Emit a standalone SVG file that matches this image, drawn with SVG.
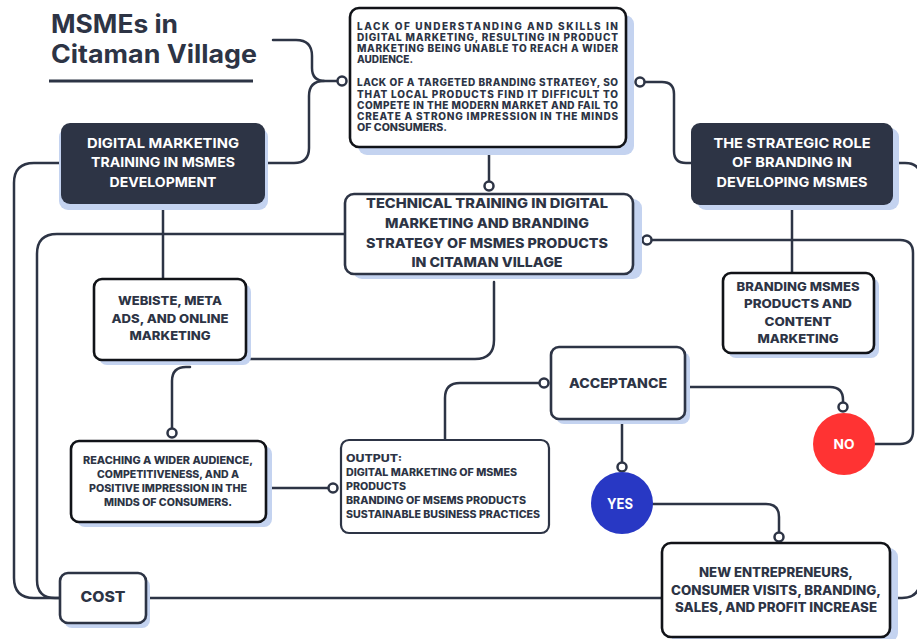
<svg xmlns="http://www.w3.org/2000/svg" width="917" height="639" viewBox="0 0 917 639">
<defs>
<style>
text{font-family:Inter,"Open Sans","Liberation Sans",sans-serif;font-weight:800;fill:#2d3445}
.t{font-size:25px;font-weight:700}
.w{fill:#ffffff;font-size:13.5px;text-anchor:middle;font-weight:700}
.c14{font-size:13.5px;text-anchor:middle}
.c13{font-size:12.5px;text-anchor:middle}
.c12{font-size:12px;text-anchor:middle}
.c11{font-size:10.5px;text-anchor:middle}
.l10{font-size:10px}
.j{font-size:10px;font-weight:800}
.ln{fill:none;stroke:#2d3445;stroke-width:2.5;stroke-linecap:round;stroke-linejoin:round}
.dot{fill:#ffffff;stroke:#2d3445;stroke-width:2.5}
.sh{fill:#c4d3f0}
.box{fill:#ffffff;stroke:#111318;stroke-width:2.6}
.dark{fill:#2d3445}
</style>
</defs>
<rect width="917" height="639" fill="#ffffff"/>

<g id="title">
<text class="t" x="51" y="33" textLength="127" lengthAdjust="spacingAndGlyphs">MSMEs in</text>
<text class="t" x="51" y="63" textLength="206" lengthAdjust="spacingAndGlyphs">Citaman Village</text>
<line x1="49" y1="81" x2="253" y2="81" stroke="#2d3445" stroke-width="3"/>
</g>

<g id="connectors">
<path class="ln" d="M273 40 H296 Q312 40 312 56 V68 Q312 81 325 81 H338"/>
<path class="ln" d="M265 163 H294 Q309 163 309 148 V96 Q309 81 324 81"/>
<path class="ln" d="M644 82 H662 Q674 82 674 94 V151 Q674 163 686 163 H691"/>
<path class="ln" d="M893 163 H905 Q921 163 921 179 V300"/>
<path class="ln" d="M489 147 V182"/>
<path class="ln" d="M163 204 V279"/>
<path class="ln" d="M792 205 V273"/>
<path class="ln" d="M651 240 H900 Q913 240 913 253 V431 Q913 444 900 444 H873"/>
<path class="ln" d="M345 234 H57 Q37 234 37 254 V580 Q37 598 55 598 H60"/>
<path class="ln" d="M61 163 H34 Q14 163 14 183 V578 Q14 598 34 598 H60"/>
<path class="ln" d="M494 282 V340 Q494 359 475 359 H246"/>
<path class="ln" d="M190 367 H186 Q172 367 172 381 V429"/>
<path class="ln" d="M266 488 H329"/>
<path class="ln" d="M445 440 V398 Q445 383 460 383 H540"/>
<path class="ln" d="M685 387 H830 Q843 387 843 400 V403"/>
<path class="ln" d="M622 419 V463"/>
<path class="ln" d="M653 504 H766 Q779 504 779 517 V533"/>
<path class="ln" d="M146 598 H662"/>
<path class="ln" d="M890 598 H902 Q920 598 920 580 V560"/>
<circle class="dot" cx="342" cy="81" r="4.5"/>
<circle class="dot" cx="640" cy="82" r="4.5"/>
<circle class="dot" cx="489" cy="186" r="4.5"/>
<circle class="dot" cx="647" cy="240" r="4.5"/>
<circle class="dot" cx="172" cy="433" r="4.5"/>
<circle class="dot" cx="333" cy="488" r="4.5"/>
<circle class="dot" cx="544" cy="383" r="4.5"/>
<circle class="dot" cx="843" cy="407" r="4.5"/>
<circle class="dot" cx="622" cy="467" r="4.5"/>
<circle class="dot" cx="779" cy="537" r="4.5"/>
</g>

<g id="problems">
<rect class="sh" x="358" y="15" width="276" height="140" rx="9"/>
<rect class="box" x="350" y="8" width="276" height="139" rx="9"/>
<text class="j" x="357" y="29.5" textLength="261" lengthAdjust="spacing">LACK OF UNDERSTANDING AND SKILLS IN</text>
<text class="j" x="357" y="40.5" textLength="261" lengthAdjust="spacing">DIGITAL MARKETING, RESULTING IN PRODUCT</text>
<text class="j" x="357" y="52" textLength="261" lengthAdjust="spacing">MARKETING BEING UNABLE TO REACH A WIDER</text>
<text class="j" x="357" y="63" textLength="56" lengthAdjust="spacingAndGlyphs">AUDIENCE.</text>
<text class="j" x="357" y="86" textLength="261" lengthAdjust="spacing">LACK OF A TARGETED BRANDING STRATEGY, SO</text>
<text class="j" x="357" y="97.5" textLength="261" lengthAdjust="spacing">THAT LOCAL PRODUCTS FIND IT DIFFICULT TO</text>
<text class="j" x="357" y="108.5" textLength="261" lengthAdjust="spacing">COMPETE IN THE MODERN MARKET AND FAIL TO</text>
<text class="j" x="357" y="120" textLength="261" lengthAdjust="spacing">CREATE A STRONG IMPRESSION IN THE MINDS</text>
<text class="j" x="357" y="131" textLength="90" lengthAdjust="spacingAndGlyphs">OF CONSUMERS.</text>
</g>

<g id="digital-marketing-training">
<rect class="sh" x="59" y="128" width="209" height="82" rx="9"/>
<rect class="dark" x="61" y="123" width="204" height="81" rx="9"/>
<text class="w" x="163" y="148" textLength="152" lengthAdjust="spacingAndGlyphs">DIGITAL MARKETING</text>
<text class="w" x="163" y="167" textLength="144" lengthAdjust="spacingAndGlyphs">TRAINING IN MSMES</text>
<text class="w" x="163" y="187" textLength="107" lengthAdjust="spacingAndGlyphs">DEVELOPMENT</text>
</g>

<g id="strategic-role-branding">
<rect class="sh" x="697" y="128" width="202" height="82" rx="9"/>
<rect class="dark" x="691" y="123" width="202" height="82" rx="9"/>
<text class="w" x="792" y="148" textLength="157" lengthAdjust="spacingAndGlyphs">THE STRATEGIC ROLE</text>
<text class="w" x="792" y="167" textLength="120" lengthAdjust="spacingAndGlyphs">OF BRANDING IN</text>
<text class="w" x="792" y="187" textLength="151" lengthAdjust="spacingAndGlyphs">DEVELOPING MSMES</text>
</g>

<g id="technical-training">
<rect class="sh" x="353" y="199" width="289" height="80" rx="9"/>
<rect class="box" x="345" y="194" width="288" height="80" rx="9" style="stroke:#2d3445"/>
<text class="c14" x="487" y="208" textLength="242" lengthAdjust="spacingAndGlyphs">TECHNICAL TRAINING IN DIGITAL</text>
<text class="c14" x="487" y="228" textLength="204" lengthAdjust="spacingAndGlyphs">MARKETING AND BRANDING</text>
<text class="c14" x="487" y="248" textLength="242" lengthAdjust="spacingAndGlyphs">STRATEGY OF MSMES PRODUCTS</text>
<text class="c14" x="487" y="267" textLength="151" lengthAdjust="spacingAndGlyphs">IN CITAMAN VILLAGE</text>
</g>

<g id="website-meta-ads">
<rect class="sh" x="99" y="284" width="152" height="81" rx="8"/>
<rect class="box" x="94" y="279" width="152" height="81" rx="8"/>
<text class="c12" x="170" y="305" textLength="104" lengthAdjust="spacingAndGlyphs">WEBISTE, META</text>
<text class="c12" x="170" y="323" textLength="117" lengthAdjust="spacingAndGlyphs">ADS, AND ONLINE</text>
<text class="c12" x="170" y="340" textLength="81" lengthAdjust="spacingAndGlyphs">MARKETING</text>
</g>

<g id="branding-content">
<rect class="sh" x="728" y="278" width="151" height="80" rx="8"/>
<rect class="box" x="723" y="273" width="151" height="80" rx="8"/>
<text class="c12" x="798" y="291" textLength="123" lengthAdjust="spacingAndGlyphs">BRANDING MSMES</text>
<text class="c12" x="798" y="308" textLength="108" lengthAdjust="spacingAndGlyphs">PRODUCTS AND</text>
<text class="c12" x="798" y="326" textLength="67" lengthAdjust="spacingAndGlyphs">CONTENT</text>
<text class="c12" x="798" y="343" textLength="81" lengthAdjust="spacingAndGlyphs">MARKETING</text>
</g>

<g id="reaching-wider-audience">
<rect class="sh" x="77" y="446" width="195" height="81" rx="8"/>
<rect class="box" x="71" y="441" width="195" height="81" rx="8"/>
<text class="c11" x="168" y="464" textLength="170" lengthAdjust="spacingAndGlyphs">REACHING A WIDER AUDIENCE,</text>
<text class="c11" x="168" y="478" textLength="142" lengthAdjust="spacingAndGlyphs">COMPETITIVENESS, AND A</text>
<text class="c11" x="168" y="492" textLength="158" lengthAdjust="spacingAndGlyphs">POSITIVE IMPRESSION IN THE</text>
<text class="c11" x="168" y="506" textLength="128" lengthAdjust="spacingAndGlyphs">MINDS OF CONSUMERS.</text>
</g>

<g id="output">
<rect x="341" y="440" width="208" height="93" rx="8" fill="#ffffff" stroke="#2d3445" stroke-width="2.2"/>
<text class="l10" x="346" y="462" textLength="56" lengthAdjust="spacingAndGlyphs">OUTPUT:</text>
<text class="l10" x="346" y="476" textLength="171" lengthAdjust="spacingAndGlyphs">DIGITAL MARKETING OF MSMES</text>
<text class="l10" x="346" y="490" textLength="60" lengthAdjust="spacingAndGlyphs">PRODUCTS</text>
<text class="l10" x="346" y="504" textLength="180" lengthAdjust="spacingAndGlyphs">BRANDING OF MSEMS PRODUCTS</text>
<text class="l10" x="346" y="518" textLength="194" lengthAdjust="spacingAndGlyphs">SUSTAINABLE BUSINESS PRACTICES</text>
</g>

<g id="acceptance">
<rect class="sh" x="556" y="352" width="134" height="72" rx="8"/>
<rect class="box" x="551" y="347" width="134" height="72" rx="8" style="stroke:#2d3445"/>
<text class="c14" x="618" y="388" textLength="98" lengthAdjust="spacingAndGlyphs">ACCEPTANCE</text>
</g>

<g id="no">
<circle cx="844" cy="444" r="31" fill="#ff3333"/>
<text class="w" x="844" y="449" textLength="21" lengthAdjust="spacingAndGlyphs">NO</text>
</g>

<g id="yes">
<circle cx="622" cy="503" r="31" fill="#2838c4"/>
<text class="w" x="620" y="509" style="font-size:14.5px" textLength="26" lengthAdjust="spacingAndGlyphs">YES</text>
</g>

<g id="results">
<rect class="sh" x="670" y="548" width="228" height="94" rx="9"/>
<rect class="box" x="662" y="543" width="228" height="94" rx="9"/>
<text class="c13" x="776" y="577" textLength="154" lengthAdjust="spacingAndGlyphs">NEW ENTREPRENEURS,</text>
<text class="c13" x="776" y="595" textLength="210" lengthAdjust="spacingAndGlyphs">CONSUMER VISITS, BRANDING,</text>
<text class="c13" x="776" y="612" textLength="202" lengthAdjust="spacingAndGlyphs">SALES, AND PROFIT INCREASE</text>
</g>

<g id="cost">
<rect class="sh" x="64" y="578" width="86" height="50" rx="8"/>
<rect class="box" x="60" y="573" width="86" height="50" rx="8" style="stroke:#2d3445"/>
<text class="c14" x="103" y="602" style="font-size:15px" textLength="45" lengthAdjust="spacingAndGlyphs">COST</text>
</g>
</svg>
